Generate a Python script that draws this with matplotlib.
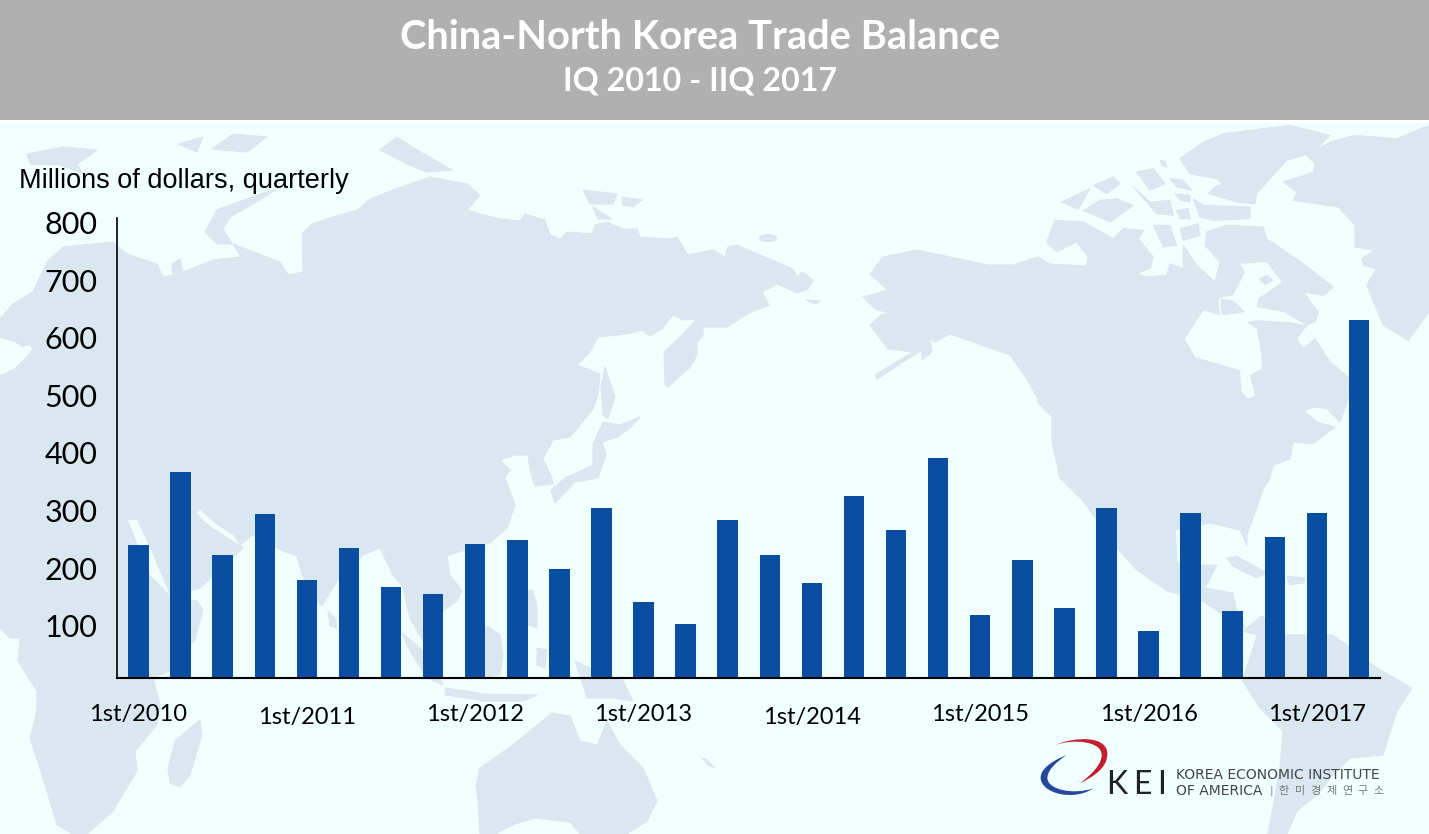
import numpy as np
import matplotlib
matplotlib.use('Agg')
import matplotlib.pyplot as plt
from matplotlib.patches import Polygon, Rectangle, Ellipse, PathPatch
from matplotlib.path import Path
from matplotlib.transforms import ScaledTranslation

# quarterly balance, millions of dollars
values = [231, 358, 214, 285, 170, 226, 158, 146, 233, 240,
          190, 296, 132, 94, 275, 214, 165, 317, 257, 383,
          110, 205, 122, 296, 82, 287, 117, 245, 287, 623]
year_ticks = [0, 4, 8, 12, 16, 20, 24, 28]
year_labels = ['1st/2010', '1st/2011', '1st/2012', '1st/2013',
               '1st/2014', '1st/2015', '1st/2016', '1st/2017']
y_ticks = [100, 200, 300, 400, 500, 600, 700, 800]
hangul = ['한', '미', '경', '제', '연', '구', '소']

W, H = 1429, 834
BG = '#f0ffff'
LAND = '#d9e8f0'
BAR = '#0a4ea2'


def z(x0, y0, pts):
    return [(x0 + a / 3, y0 + b / 3) for a, b in pts]


# ---- rough world map behind the chart, picture pixels ----
old_world = [(0,319),(13,304),(33,292),(47,262),(63,247),(113,242),(127,254),(157,264),(163,277),
             (173,275),(172,264),(180,259),(183,272),(213,260),(240,257),(245,264),(233,244),(280,262),
             (288,275),(303,272),(302,234),(312,224),(333,217),(358,210),(370,199),(393,190),(430,177),
             (467,184),(480,195),(467,210),(480,214),(500,219),(520,221),(525,214),(545,220),(550,235),
             (560,239),(567,232),(592,234),(595,225),(607,222),(623,229),(637,229),(640,237),(670,239),
             (677,237),(688,255),(713,250),(725,257),(728,247),(737,245),(793,269),(797,277),(802,272),
             (813,280),(808,289),(797,293),(777,284),(762,292),(769,305),(747,314),(727,327),(703,327),
             (703,335),(697,342),(697,355),(690,367),(668,387),(665,385),(664,352),(680,337),(697,319),
             (683,320),(673,315),(662,329),(650,336),(643,330),(627,334),(598,337),(590,352),(577,365),
             (590,370),(600,374),(598,395),(593,409),(570,437),(553,440),(543,459),(552,478),(553,484),
             (535,486),(530,470),(528,455),(515,455),(500,460),(510,470),(505,478),(515,505),(507,528),
             (490,543),(480,545),(447,556),(450,575),(462,591),(457,601),(443,611),(433,625),(422,611),
             (427,635),(440,671),(410,618),(402,585),(393,575),(380,548),(363,555),(337,581),(322,606),
             (317,601),(302,575),(297,556),(283,551),(253,535),(240,545),(243,548),(200,588),(172,596),
             (197,601),(203,610),(195,640),(170,671),(153,678),(160,705),(157,725),(135,751),(137,771),
             (113,811),(87,834),(73,834),(57,825),(43,778),(30,738),(37,711),(37,691),(18,661),(20,638),
             (10,638),(0,628)]
mediterranean = [(0,338),(15,342),(22,347),(30,345),(32,350),(25,358),(15,368),(0,375)]
red_sea = [(128,520),(137,520),(147,541),(170,595),(150,575)]
persian_gulf = [(197,513),(203,520),(213,528),(227,537),(240,545),(233,535),(217,525),(200,510)]

n_america = [(883,257),(917,250),(950,257),(988,265),(1013,265),(1038,257),(1050,264)]
n_america += z(950, 122, [(410,432),(415,405),(380,360),(320,390),(290,360),(315,295),(400,300),(490,350),
                          (520,320),(580,325),(565,350),(610,405),(600,440),(560,455),(590,465),(650,460),
                          (660,425),(700,440),(700,370),(740,430),(795,480),(810,420),(765,370),(770,330),
                          (830,310),(940,315),(950,350),(1060,425),(1150,495),(1120,520),(1060,510),
                          (1105,570),(1095,600),(1070,610),(1040,650),(1060,680),(1095,650),(1140,720),
                          (1195,765),(1195,830),(1170,900),(1130,860),(1095,855),(1060,865),(1100,900),
                          (1155,915),(1090,965),(1030,960),(1020,1010),(970,1030),(960,1068)])
n_america += [(1263,490),(1247,535),(1247,545),(1240,530),(1210,523),(1175,530),(1177,561),(1190,575),
              (1202,565),(1217,565),(1205,588),(1233,593),(1236,608),(1245,628),(1232,620),(1217,611),
              (1203,601),(1167,591),(1137,570),(1117,548),(1083,501),(1060,478),(1052,442),(1052,417),
              (1037,402),(1038,399),(1027,379),(1010,355),(950,334),(935,342),(930,339),(932,352),
              (922,360),(922,350),(877,379),(875,375),(913,352),(888,349),(870,325),(882,314),(892,314),
              (875,309),(863,297),(888,290),(870,274)]
hudson = z(950, 122, [(705,650),(760,565),(810,580),(805,530),(820,525),(850,520),(885,450),(870,425),(950,420),
                      (995,480),(925,530),(920,555),(1000,570),(1070,610),(1020,600),(920,595),(890,600),
                      (920,620),(935,700),(935,740),(900,760),(915,820),(895,830),(875,810),(870,745),(735,705)])
hudson_isles = [z(950, 122, [(925,470),(950,458),(972,475),(945,490)]),
                z(950, 122, [(810,530),(850,535),(885,570),(815,580)])]
s_america = [(1242,680),(1250,658),(1257,635),(1243,631),(1262,616),(1283,635),(1333,635),(1377,668),
             (1412,688),(1397,711),(1383,755),(1350,758),(1333,775),(1317,795),(1297,811),(1287,834),
             (1268,834),(1280,768),(1283,731),(1260,708)]
greenland = z(950, 122, [(1000,180),(1090,150),(1095,125),(1070,100),(1140,60),(1215,40),(1340,50),(1437,10),
                         (1437,570),(1375,655),(1300,610),(1250,490),(1280,440),(1240,430),(1235,410),
                         (1275,385),(1215,375),(1215,310),(1165,255),(1030,235),(1040,210)])
ellesmere = z(950, 122, [(690,110),(760,60),(820,35),(1020,10),(1140,40),(1090,90),(1010,115),(960,170),
                         (920,215),(915,245),(860,240),(775,215),(800,190),(820,190),(800,170),(720,155)])
arctic_isles = [z(950, 122, p) for p in (
    [(335,240),(420,200),(385,262)],
    [(400,265),(450,235),(500,230),(550,250),(480,300)],
    [(430,190),(490,165),(510,185),(470,215)],
    [(560,150),(610,140),(645,185),(600,205)],
    [(660,170),(700,175),(725,205),(680,195)],
    [(550,195),(600,240),(660,235),(670,280),(620,275)],
    [(730,230),(760,250),(900,255),(900,290),(790,295),(750,285)],
    [(610,310),(660,310),(680,370),(640,375)],
    [(690,320),(745,305),(750,340),(700,355)],
    [(680,265),(715,260),(720,290),(690,290)],
    [(675,215),(720,220),(720,240),(690,235)],
    [(630,115),(645,118),(650,135),(635,130)],
)]
siberia_isles = [
    [(27,154),(63,147),(97,150),(77,164),(83,174),(60,165),(30,164)],
    [(205,232),(217,210),(260,194),(277,189),(260,200),(230,217),(223,229),(232,244),(217,244)],
    [(178,144),(203,137),(197,152)],
    [(212,149),(233,134),(267,137),(247,152)],
    [(380,150),(397,137),(417,150),(452,170),(427,172),(407,164)],
    [(583,190),(617,194),(613,204),(590,204)],
    [(622,197),(642,200),(633,207),(623,205)],
    [(593,207),(612,219),(598,219)],
    [(806,300),(820,301),(816,304)],
    [(605,367),(615,397),(608,419),(603,415),(601,387)],
]
pacific_isles = [
    [(603,422),(620,425),(640,417),(630,428),(617,437),(602,442),(606,455),(598,478),(575,482),
     (555,503),(551,490),(565,478),(593,465),(593,444)],
    [(523,591),(532,590),(537,605),(537,628),(528,625),(523,610)],
    [(487,626),(500,635),(503,655),(500,675),(480,678),(478,650)],
    [(537,648),(547,650),(545,668),(537,665)],
    [(402,633),(420,648),(437,671),(443,685),(427,678),(410,651)],
    [(445,688),(480,693),(480,700),(445,695)],
    [(480,694),(537,695),(523,701),(480,701)],
    [(575,661),(590,668),(623,681),(633,701),(613,698),(587,698),(583,685)],
    [(200,720),(202,735),(190,775),(180,787),(170,783),(168,768),(175,741),(190,728)],
    [(328,611),(335,618),(337,628),(330,626)],
    [(702,758),(706,759),(715,768),(709,766)],
]
australia = [(480,768),(513,745),(552,713),(570,716),(580,741),(597,745),(607,721),(620,745),(643,768),
             (657,801),(647,821),(627,834),(580,834),(570,822),(535,818),(515,824),(495,834),(480,834),
             (478,800),(476,785)]
caribbean = [z(950, 478, [(830,240),(860,235),(950,285),(920,300),(850,265)]),
             z(950, 478, [(1010,295),(1065,300),(1060,315),(1020,320)])]
land_parts = ([old_world, n_america, s_america, greenland, ellesmere, australia]
              + arctic_isles + siberia_isles + pacific_isles + caribbean)

fig = plt.figure(figsize=(W / 100, H / 100), dpi=100, facecolor=BG)

# backdrop layer in pixels, y going down
back = fig.add_axes([0, 0, 1, 1], zorder=0)
back.set_xlim(0, W)
back.set_ylim(H, 0)
back.axis('off')
for part in land_parts:
    back.add_patch(Polygon(part, closed=True, fc=LAND, ec=LAND, lw=0.8, joinstyle='round'))
for part in [mediterranean, red_sea, persian_gulf, hudson]:
    back.add_patch(Polygon(part, closed=True, fc=BG, ec='none'))
for part in hudson_isles:
    back.add_patch(Polygon(part, closed=True, fc=LAND, ec='none'))
back.add_patch(Ellipse((768, 238), 18, 8, fc=LAND, ec='none'))
back.add_patch(Rectangle((0, 0), W, 120, fc='#b0b0b0', ec='none'))
back.add_patch(Rectangle((0, 120), W, 2.5, fc='white', ec='none'))

back.text(700, 37, 'China-North Korea Trade Balance', color='white', family='Lato',
          weight='bold', size=28.7, ha='center', va='center')
back.text(700, 81, 'IQ 2010 - IIQ 2017', color='white', family='Lato',
          weight='bold', size=23.2, ha='center', va='center')
back.text(19, 180.5, 'Millions of dollars, quarterly', color='black',
          family='Liberation Sans', size=19.5, ha='left', va='center')

# logo swooshes
C4 = Path.CURVE4
red = z(1030, 735, [(75,30),(135,5),(235,0),(232,60),(230,100),(190,125),(150,145),
                    (190,115),(215,85),(215,60),(215,20),(135,10),(75,30)])
blue = z(1030, 735, [(110,60),(60,80),(30,105),(32,130),(35,175),(130,200),(190,160),
                     (130,180),(55,165),(52,130),(52,105),(80,80),(110,60)])
codes = [Path.MOVETO] + [C4] * 12
back.add_patch(PathPatch(Path(red, codes), fc='#c0202f', ec='none'))
back.add_patch(PathPatch(Path(blue, codes), fc='#27479b', ec='none'))
for letter, lx in zip('KEI', (1106, 1133, 1157)):
    back.text(lx, 785, letter, color='#222222', family='Lato', size=23, ha='left', va='center')
back.text(1176, 775, 'KOREA ECONOMIC INSTITUTE', color='#444444', family='DejaVu Sans',
          size=10, ha='left', va='center')
back.text(1176, 791, 'OF AMERICA', color='#444444', family='DejaVu Sans',
          size=10, ha='left', va='center')
back.text(1271, 791, '|', color='#888888', family='DejaVu Sans', size=8, ha='center', va='center')
for i, ch in enumerate(hangul):
    back.text(1284 + i * 15.8, 791, ch, color='#777777', family=['Noto Sans CJK KR', 'DejaVu Sans'],
              size=8, ha='center', va='center')

# bars
ax = fig.add_axes([117 / W, (H - 678) / H, 1263 / W, 460 / H], zorder=1)
ax.patch.set_alpha(0)
x = np.arange(len(values))
ax.bar(x, values, width=0.487, color=BAR)
ax.set_xlim(-0.511, 29.5)
ax.set_ylim(0, 800)
ax.spines['top'].set_visible(False)
ax.spines['right'].set_visible(False)
ax.spines['left'].set_linewidth(1.2)
ax.spines['bottom'].set_linewidth(1.5)

ax.set_yticks(y_ticks)
ax.set_yticklabels([str(v) for v in y_ticks], family='Lato', size=22)
ax.tick_params(axis='y', length=0, pad=14)
down = ScaledTranslation(0, -5 / 100, fig.dpi_scale_trans)
for lab in ax.get_yticklabels():
    lab.set_transform(lab.get_transform() + down)

ax.set_xticks(year_ticks)
ax.set_xticklabels(year_labels, family='Lato', size=17)
ax.tick_params(axis='x', length=0)
# the labels do not sit on one line in the original
pads = [18.7, 20.7, 19, 18.7, 20.7, 19, 19, 18.7]
for tick, pad in zip(ax.xaxis.get_major_ticks(), pads):
    tick.set_pad(pad)

fig.savefig('out.png', dpi=100, facecolor=BG)
